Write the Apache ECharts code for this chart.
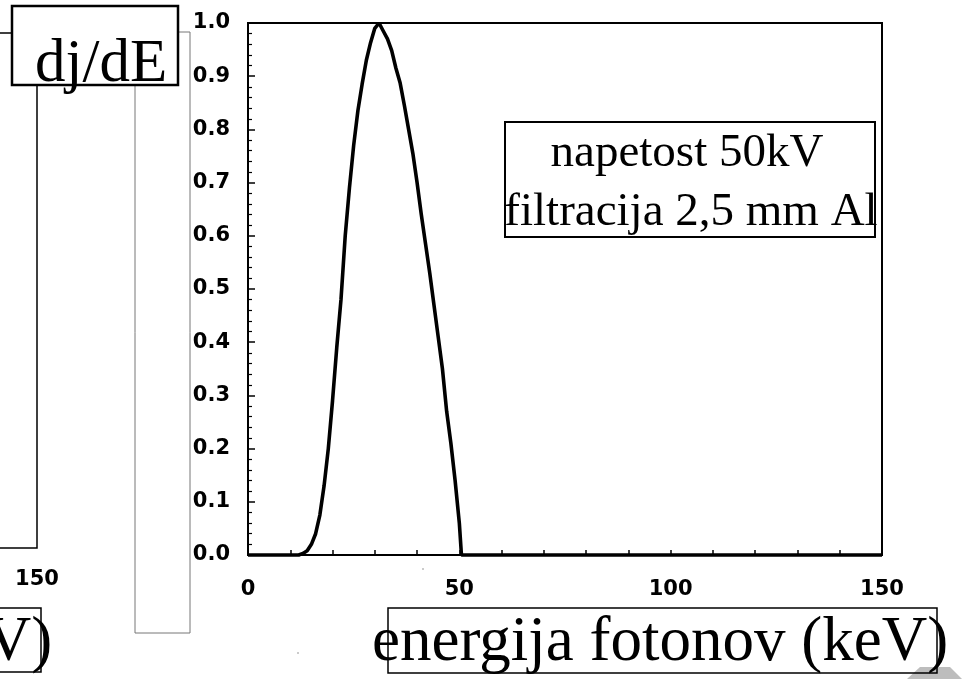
<!DOCTYPE html>
<html>
<head>
<meta charset="utf-8">
<script src="https://cdn.jsdelivr.net/npm/echarts@6/dist/echarts.min.js"></script>
<style>
html,body{margin:0;padding:0;background:#fff;}
#chart{width:962px;height:679px;}
</style>
</head>
<body>
<div id="chart"></div>
<script>
// photon energy (keV)
const energy = [0, 5, 10, 12, 13, 14, 15, 16, 17, 18, 19, 20, 21, 22, 23, 24, 25, 26, 27, 28, 29, 30, 31, 32, 33, 34, 35, 36, 37, 38, 39, 40, 41, 42, 43, 44, 45, 46, 47, 48, 49, 50, 50.5, 60, 100, 150];
// relative spectral intensity dj/dE
const intensity = [0, 0, 0, 0, 0.003, 0.008, 0.02, 0.04, 0.075, 0.13, 0.2, 0.29, 0.39, 0.48, 0.6, 0.69, 0.77, 0.835, 0.885, 0.93, 0.963, 0.99, 1.0, 0.985, 0.97, 0.948, 0.915, 0.887, 0.845, 0.8, 0.755, 0.7, 0.64, 0.585, 0.53, 0.47, 0.41, 0.35, 0.27, 0.21, 0.14, 0.06, 0, 0, 0, 0];
const xLabels = [0, 50, 100, 150];
const yLabelDecimals = 1;

const yTitle = 'dj/dE';
const xTitle = 'energija fotonov (keV)';
const noteLines = ['napetost 50kV', 'filtracija 2,5 mm Al'];

const chart = echarts.init(document.getElementById('chart'), null, {renderer: 'canvas'});
const serif = '"Liberation Serif", "Times New Roman", serif';
const sans = '"DejaVu Sans", Arial, sans-serif';

const option = {
  animation: false,
  backgroundColor: '#fff',
  grid: {left: 248, right: 80, top: 23, bottom: 124, show: true, borderColor: '#000', borderWidth: 2, backgroundColor: 'transparent'},
  xAxis: {
    type: 'value', min: 0, max: 150, interval: 10,
    axisLine: {show: true, lineStyle: {color: '#000', width: 2}},
    axisTick: {show: true, inside: true, length: 5, lineStyle: {color: '#000', width: 1.5}},
    splitLine: {show: false},
    axisLabel: {
      margin: 24, color: '#000', fontFamily: sans, fontWeight: 'bold', fontSize: 21,
      formatter: v => xLabels.indexOf(v) >= 0 ? String(v) : ''
    }
  },
  yAxis: {
    type: 'value', min: 0, max: 1, interval: 0.1,
    axisLine: {show: true, lineStyle: {color: '#000', width: 2}},
    axisTick: {show: true, inside: true, length: 7, lineStyle: {color: '#000', width: 1.5}},
    minorTick: {show: true, splitNumber: 5, length: 4, lineStyle: {color: '#000', width: 1.2}},
    splitLine: {show: false},
    minorSplitLine: {show: false},
    axisLabel: {
      margin: 18, color: '#000', fontFamily: sans, fontWeight: 'bold', fontSize: 21,
      formatter: v => v.toFixed(yLabelDecimals)
    }
  },
  series: [{
    type: 'line',
    data: energy.map((e, i) => [e, intensity[i]]),
    showSymbol: false,
    symbol: 'none',
    lineStyle: {color: '#000', width: 3.6},
    clip: false
  }],
  graphic: [
    // grey frame of a neighbouring panel
    {type: 'rect', z: 1, shape: {x: 135, y: 32, width: 55, height: 601}, style: {fill: 'none', stroke: '#777', lineWidth: 1}},
    // right edge of the left panel
    {type: 'polyline', z: 1, shape: {points: [[0, 33], [37, 33], [37, 548], [0, 548]]}, style: {fill: 'none', stroke: '#000', lineWidth: 1.5}},
    {type: 'text', z: 1, style: {x: 37, y: 580, text: '150', font: 'bold 21px ' + sans, fill: '#000', align: 'center', verticalAlign: 'middle'}},
    // left panel x title remainder
    {type: 'rect', z: 1, shape: {x: -508, y: 608, width: 549, height: 64}, style: {fill: 'none', stroke: '#000', lineWidth: 1.5}},
    {type: 'text', z: 2, style: {x: -524, y: 643.5, text: xTitle, font: '63px ' + serif, fill: '#000', align: 'left', verticalAlign: 'middle'}},
    // y title box
    {type: 'rect', z: 5, shape: {x: 12, y: 6, width: 166, height: 79}, style: {fill: '#fff', stroke: '#000', lineWidth: 2.5}},
    {type: 'text', z: 6, style: {x: 35, y: 65, text: yTitle, font: '61px ' + serif, fill: '#000', align: 'left', verticalAlign: 'middle'}},
    // note box
    {type: 'rect', z: 5, shape: {x: 505, y: 122, width: 370, height: 115}, style: {fill: 'none', stroke: '#000', lineWidth: 2}},
    {type: 'text', z: 6, style: {x: 687, y: 153.5, text: noteLines[0], font: '47px ' + serif, fill: '#000', align: 'center', verticalAlign: 'middle'}},
    {type: 'text', z: 6, style: {x: 691, y: 212.5, text: noteLines[1], font: '47px ' + serif, fill: '#000', align: 'center', verticalAlign: 'middle'}},
    // grey shadow bottom right
    {type: 'polygon', z: 1, shape: {points: [[907, 679], [920, 667], [950, 667], [962, 679]]}, style: {fill: '#bdbdbd'}},
    // x title box
    {type: 'rect', z: 5, shape: {x: 388, y: 608, width: 549, height: 65}, style: {fill: 'none', stroke: '#000', lineWidth: 1.5}},
    {type: 'text', z: 6, style: {x: 372, y: 643.5, text: xTitle, font: '63px ' + serif, fill: '#000', align: 'left', verticalAlign: 'middle'}},
    // stray specks
    {type: 'circle', z: 1, shape: {cx: 298, cy: 653, r: 0.8}, style: {fill: '#888'}},
    {type: 'circle', z: 1, shape: {cx: 423, cy: 569, r: 0.8}, style: {fill: '#888'}}
  ]
};
chart.setOption(option);
</script>
</body>
</html>
